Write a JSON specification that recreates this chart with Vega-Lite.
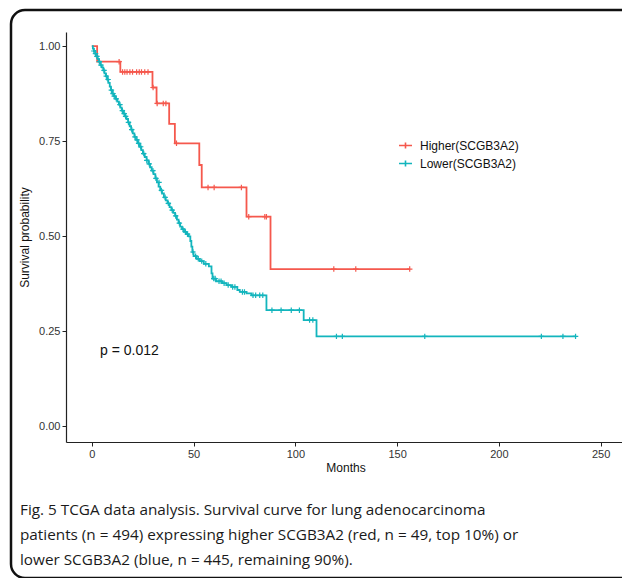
{
  "$schema": "https://vega.github.io/schema/vega-lite/v6.json",
  "width": 640,
  "height": 568,
  "autosize": "none",
  "padding": {"left": 11, "top": 10, "right": 0, "bottom": 0},
  "background": "white",
  "config": {
    "view": {"stroke": "#111111", "strokeWidth": 2.5, "cornerRadius": 14},
    "font": "Liberation Sans"
  },
  "title": {
    "text": [
      "Fig. 5 TCGA data analysis. Survival curve for lung adenocarcinoma",
      "patients (n = 494) expressing higher SCGB3A2 (red, n = 49, top 10%) or",
      "lower SCGB3A2 (blue, n = 445, remaining 90%)."
    ],
    "orient": "bottom",
    "anchor": "start",
    "frame": "group",
    "offset": -75,
    "dx": 9,
    "font": "Open Sans",
    "fontSize": 15.3,
    "fontWeight": "normal",
    "color": "#1a1a1a",
    "lineHeight": 25,
    "baseline": "top"
  },
  "datasets": {
    "steps": [
      {"group": "Higher(SCGB3A2)", "month": 0, "surv": 1.0},
      {"group": "Higher(SCGB3A2)", "month": 2.6, "surv": 0.959},
      {"group": "Higher(SCGB3A2)", "month": 14.0, "surv": 0.932},
      {"group": "Higher(SCGB3A2)", "month": 29.8, "surv": 0.891},
      {"group": "Higher(SCGB3A2)", "month": 31.8, "surv": 0.849},
      {"group": "Higher(SCGB3A2)", "month": 38.0, "surv": 0.795},
      {"group": "Higher(SCGB3A2)", "month": 40.8, "surv": 0.744},
      {"group": "Higher(SCGB3A2)", "month": 52.8, "surv": 0.687},
      {"group": "Higher(SCGB3A2)", "month": 54.0, "surv": 0.628},
      {"group": "Higher(SCGB3A2)", "month": 76.0, "surv": 0.551},
      {"group": "Higher(SCGB3A2)", "month": 87.8, "surv": 0.413},
      {"group": "Higher(SCGB3A2)", "month": 156.2, "surv": 0.413},
      {"group": "Lower(SCGB3A2)", "month": 0, "surv": 1.0},
      {"group": "Lower(SCGB3A2)", "month": 0.5, "surv": 0.993},
      {"group": "Lower(SCGB3A2)", "month": 1.0, "surv": 0.987},
      {"group": "Lower(SCGB3A2)", "month": 1.6, "surv": 0.98},
      {"group": "Lower(SCGB3A2)", "month": 2.2, "surv": 0.973},
      {"group": "Lower(SCGB3A2)", "month": 2.9, "surv": 0.966},
      {"group": "Lower(SCGB3A2)", "month": 3.5, "surv": 0.959},
      {"group": "Lower(SCGB3A2)", "month": 4.2, "surv": 0.95},
      {"group": "Lower(SCGB3A2)", "month": 4.9, "surv": 0.944},
      {"group": "Lower(SCGB3A2)", "month": 5.6, "surv": 0.936},
      {"group": "Lower(SCGB3A2)", "month": 6.2, "surv": 0.928},
      {"group": "Lower(SCGB3A2)", "month": 6.9, "surv": 0.921},
      {"group": "Lower(SCGB3A2)", "month": 7.5, "surv": 0.912},
      {"group": "Lower(SCGB3A2)", "month": 8.1, "surv": 0.903},
      {"group": "Lower(SCGB3A2)", "month": 8.8, "surv": 0.893},
      {"group": "Lower(SCGB3A2)", "month": 9.4, "surv": 0.884},
      {"group": "Lower(SCGB3A2)", "month": 10.1, "surv": 0.875},
      {"group": "Lower(SCGB3A2)", "month": 10.8, "surv": 0.868},
      {"group": "Lower(SCGB3A2)", "month": 11.6, "surv": 0.861},
      {"group": "Lower(SCGB3A2)", "month": 12.5, "surv": 0.854},
      {"group": "Lower(SCGB3A2)", "month": 13.3, "surv": 0.846},
      {"group": "Lower(SCGB3A2)", "month": 14.0, "surv": 0.838},
      {"group": "Lower(SCGB3A2)", "month": 14.7, "surv": 0.83},
      {"group": "Lower(SCGB3A2)", "month": 15.5, "surv": 0.822},
      {"group": "Lower(SCGB3A2)", "month": 16.3, "surv": 0.815},
      {"group": "Lower(SCGB3A2)", "month": 17.0, "surv": 0.808},
      {"group": "Lower(SCGB3A2)", "month": 17.8, "surv": 0.799},
      {"group": "Lower(SCGB3A2)", "month": 18.6, "surv": 0.789},
      {"group": "Lower(SCGB3A2)", "month": 19.3, "surv": 0.78},
      {"group": "Lower(SCGB3A2)", "month": 20.1, "surv": 0.77},
      {"group": "Lower(SCGB3A2)", "month": 20.9, "surv": 0.761},
      {"group": "Lower(SCGB3A2)", "month": 21.7, "surv": 0.753},
      {"group": "Lower(SCGB3A2)", "month": 22.6, "surv": 0.744},
      {"group": "Lower(SCGB3A2)", "month": 23.4, "surv": 0.735},
      {"group": "Lower(SCGB3A2)", "month": 24.3, "surv": 0.726},
      {"group": "Lower(SCGB3A2)", "month": 25.1, "surv": 0.717},
      {"group": "Lower(SCGB3A2)", "month": 26.0, "surv": 0.708},
      {"group": "Lower(SCGB3A2)", "month": 26.9, "surv": 0.699},
      {"group": "Lower(SCGB3A2)", "month": 27.8, "surv": 0.69},
      {"group": "Lower(SCGB3A2)", "month": 28.6, "surv": 0.681},
      {"group": "Lower(SCGB3A2)", "month": 29.4, "surv": 0.672},
      {"group": "Lower(SCGB3A2)", "month": 30.3, "surv": 0.663},
      {"group": "Lower(SCGB3A2)", "month": 31.2, "surv": 0.652},
      {"group": "Lower(SCGB3A2)", "month": 32.0, "surv": 0.641},
      {"group": "Lower(SCGB3A2)", "month": 32.8, "surv": 0.63},
      {"group": "Lower(SCGB3A2)", "month": 33.6, "surv": 0.62},
      {"group": "Lower(SCGB3A2)", "month": 34.5, "surv": 0.612},
      {"group": "Lower(SCGB3A2)", "month": 35.4, "surv": 0.602},
      {"group": "Lower(SCGB3A2)", "month": 36.3, "surv": 0.594},
      {"group": "Lower(SCGB3A2)", "month": 37.2, "surv": 0.586},
      {"group": "Lower(SCGB3A2)", "month": 38.2, "surv": 0.576},
      {"group": "Lower(SCGB3A2)", "month": 39.1, "surv": 0.568},
      {"group": "Lower(SCGB3A2)", "month": 40.0, "surv": 0.561},
      {"group": "Lower(SCGB3A2)", "month": 40.9, "surv": 0.553},
      {"group": "Lower(SCGB3A2)", "month": 41.8, "surv": 0.543},
      {"group": "Lower(SCGB3A2)", "month": 42.6, "surv": 0.534},
      {"group": "Lower(SCGB3A2)", "month": 43.4, "surv": 0.525},
      {"group": "Lower(SCGB3A2)", "month": 44.3, "surv": 0.518},
      {"group": "Lower(SCGB3A2)", "month": 45.3, "surv": 0.511},
      {"group": "Lower(SCGB3A2)", "month": 46.4, "surv": 0.505},
      {"group": "Lower(SCGB3A2)", "month": 47.6, "surv": 0.499},
      {"group": "Lower(SCGB3A2)", "month": 48.4, "surv": 0.487},
      {"group": "Lower(SCGB3A2)", "month": 48.9, "surv": 0.472},
      {"group": "Lower(SCGB3A2)", "month": 49.4, "surv": 0.458},
      {"group": "Lower(SCGB3A2)", "month": 50.0, "surv": 0.447},
      {"group": "Lower(SCGB3A2)", "month": 51.5, "surv": 0.44},
      {"group": "Lower(SCGB3A2)", "month": 53.0, "surv": 0.434},
      {"group": "Lower(SCGB3A2)", "month": 55.0, "surv": 0.427},
      {"group": "Lower(SCGB3A2)", "month": 57.5, "surv": 0.42},
      {"group": "Lower(SCGB3A2)", "month": 58.8, "surv": 0.402},
      {"group": "Lower(SCGB3A2)", "month": 59.3, "surv": 0.388},
      {"group": "Lower(SCGB3A2)", "month": 61.0, "surv": 0.381},
      {"group": "Lower(SCGB3A2)", "month": 64.0, "surv": 0.376},
      {"group": "Lower(SCGB3A2)", "month": 66.2, "surv": 0.371},
      {"group": "Lower(SCGB3A2)", "month": 68.6, "surv": 0.366},
      {"group": "Lower(SCGB3A2)", "month": 71.5, "surv": 0.358},
      {"group": "Lower(SCGB3A2)", "month": 72.7, "surv": 0.353},
      {"group": "Lower(SCGB3A2)", "month": 76.0, "surv": 0.349},
      {"group": "Lower(SCGB3A2)", "month": 78.4, "surv": 0.344},
      {"group": "Lower(SCGB3A2)", "month": 85.8, "surv": 0.305},
      {"group": "Lower(SCGB3A2)", "month": 104.1, "surv": 0.279},
      {"group": "Lower(SCGB3A2)", "month": 110.4, "surv": 0.236},
      {"group": "Lower(SCGB3A2)", "month": 238.0, "surv": 0.236}
    ],
    "censors": [
      {"group": "Higher(SCGB3A2)", "month": 13.4, "surv": 0.959},
      {"group": "Higher(SCGB3A2)", "month": 15.1, "surv": 0.932},
      {"group": "Higher(SCGB3A2)", "month": 16.2, "surv": 0.932},
      {"group": "Higher(SCGB3A2)", "month": 17.3, "surv": 0.932},
      {"group": "Higher(SCGB3A2)", "month": 18.7, "surv": 0.932},
      {"group": "Higher(SCGB3A2)", "month": 20.0, "surv": 0.932},
      {"group": "Higher(SCGB3A2)", "month": 22.0, "surv": 0.932},
      {"group": "Higher(SCGB3A2)", "month": 23.3, "surv": 0.932},
      {"group": "Higher(SCGB3A2)", "month": 24.4, "surv": 0.932},
      {"group": "Higher(SCGB3A2)", "month": 26.0, "surv": 0.932},
      {"group": "Higher(SCGB3A2)", "month": 27.6, "surv": 0.932},
      {"group": "Higher(SCGB3A2)", "month": 30.1, "surv": 0.891},
      {"group": "Higher(SCGB3A2)", "month": 32.1, "surv": 0.849},
      {"group": "Higher(SCGB3A2)", "month": 35.1, "surv": 0.849},
      {"group": "Higher(SCGB3A2)", "month": 36.4, "surv": 0.849},
      {"group": "Higher(SCGB3A2)", "month": 41.6, "surv": 0.744},
      {"group": "Higher(SCGB3A2)", "month": 57.1, "surv": 0.628},
      {"group": "Higher(SCGB3A2)", "month": 60.1, "surv": 0.628},
      {"group": "Higher(SCGB3A2)", "month": 73.5, "surv": 0.628},
      {"group": "Higher(SCGB3A2)", "month": 77.1, "surv": 0.551},
      {"group": "Higher(SCGB3A2)", "month": 85.0, "surv": 0.551},
      {"group": "Higher(SCGB3A2)", "month": 85.8, "surv": 0.551},
      {"group": "Higher(SCGB3A2)", "month": 118.9, "surv": 0.413},
      {"group": "Higher(SCGB3A2)", "month": 129.7, "surv": 0.413},
      {"group": "Higher(SCGB3A2)", "month": 156.2, "surv": 0.413},
      {"group": "Lower(SCGB3A2)", "month": 1.0, "surv": 0.987},
      {"group": "Lower(SCGB3A2)", "month": 1.8, "surv": 0.98},
      {"group": "Lower(SCGB3A2)", "month": 2.5, "surv": 0.973},
      {"group": "Lower(SCGB3A2)", "month": 3.7, "surv": 0.959},
      {"group": "Lower(SCGB3A2)", "month": 4.5, "surv": 0.95},
      {"group": "Lower(SCGB3A2)", "month": 6.0, "surv": 0.936},
      {"group": "Lower(SCGB3A2)", "month": 7.1, "surv": 0.921},
      {"group": "Lower(SCGB3A2)", "month": 8.0, "surv": 0.912},
      {"group": "Lower(SCGB3A2)", "month": 9.6, "surv": 0.884},
      {"group": "Lower(SCGB3A2)", "month": 10.4, "surv": 0.875},
      {"group": "Lower(SCGB3A2)", "month": 11.0, "surv": 0.868},
      {"group": "Lower(SCGB3A2)", "month": 12.0, "surv": 0.861},
      {"group": "Lower(SCGB3A2)", "month": 13.8, "surv": 0.846},
      {"group": "Lower(SCGB3A2)", "month": 15.0, "surv": 0.83},
      {"group": "Lower(SCGB3A2)", "month": 15.9, "surv": 0.822},
      {"group": "Lower(SCGB3A2)", "month": 16.6, "surv": 0.815},
      {"group": "Lower(SCGB3A2)", "month": 18.0, "surv": 0.799},
      {"group": "Lower(SCGB3A2)", "month": 19.6, "surv": 0.78},
      {"group": "Lower(SCGB3A2)", "month": 21.2, "surv": 0.761},
      {"group": "Lower(SCGB3A2)", "month": 22.2, "surv": 0.753},
      {"group": "Lower(SCGB3A2)", "month": 23.0, "surv": 0.744},
      {"group": "Lower(SCGB3A2)", "month": 24.0, "surv": 0.735},
      {"group": "Lower(SCGB3A2)", "month": 25.5, "surv": 0.717},
      {"group": "Lower(SCGB3A2)", "month": 27.0, "surv": 0.699},
      {"group": "Lower(SCGB3A2)", "month": 28.2, "surv": 0.69},
      {"group": "Lower(SCGB3A2)", "month": 30.0, "surv": 0.672},
      {"group": "Lower(SCGB3A2)", "month": 31.5, "surv": 0.652},
      {"group": "Lower(SCGB3A2)", "month": 33.0, "surv": 0.641},
      {"group": "Lower(SCGB3A2)", "month": 34.2, "surv": 0.62},
      {"group": "Lower(SCGB3A2)", "month": 36.0, "surv": 0.602},
      {"group": "Lower(SCGB3A2)", "month": 37.6, "surv": 0.586},
      {"group": "Lower(SCGB3A2)", "month": 39.5, "surv": 0.568},
      {"group": "Lower(SCGB3A2)", "month": 41.2, "surv": 0.553},
      {"group": "Lower(SCGB3A2)", "month": 43.0, "surv": 0.534},
      {"group": "Lower(SCGB3A2)", "month": 44.8, "surv": 0.518},
      {"group": "Lower(SCGB3A2)", "month": 46.0, "surv": 0.511},
      {"group": "Lower(SCGB3A2)", "month": 47.0, "surv": 0.505},
      {"group": "Lower(SCGB3A2)", "month": 49.7, "surv": 0.458},
      {"group": "Lower(SCGB3A2)", "month": 51.0, "surv": 0.447},
      {"group": "Lower(SCGB3A2)", "month": 52.3, "surv": 0.44},
      {"group": "Lower(SCGB3A2)", "month": 54.0, "surv": 0.434},
      {"group": "Lower(SCGB3A2)", "month": 56.0, "surv": 0.427},
      {"group": "Lower(SCGB3A2)", "month": 59.9, "surv": 0.388},
      {"group": "Lower(SCGB3A2)", "month": 60.6, "surv": 0.388},
      {"group": "Lower(SCGB3A2)", "month": 62.5, "surv": 0.381},
      {"group": "Lower(SCGB3A2)", "month": 63.5, "surv": 0.381},
      {"group": "Lower(SCGB3A2)", "month": 65.0, "surv": 0.376},
      {"group": "Lower(SCGB3A2)", "month": 67.0, "surv": 0.371},
      {"group": "Lower(SCGB3A2)", "month": 69.2, "surv": 0.366},
      {"group": "Lower(SCGB3A2)", "month": 70.3, "surv": 0.366},
      {"group": "Lower(SCGB3A2)", "month": 74.0, "surv": 0.353},
      {"group": "Lower(SCGB3A2)", "month": 75.0, "surv": 0.353},
      {"group": "Lower(SCGB3A2)", "month": 79.2, "surv": 0.344},
      {"group": "Lower(SCGB3A2)", "month": 80.5, "surv": 0.344},
      {"group": "Lower(SCGB3A2)", "month": 82.5, "surv": 0.344},
      {"group": "Lower(SCGB3A2)", "month": 84.0, "surv": 0.344},
      {"group": "Lower(SCGB3A2)", "month": 88.5, "surv": 0.305},
      {"group": "Lower(SCGB3A2)", "month": 93.0, "surv": 0.305},
      {"group": "Lower(SCGB3A2)", "month": 98.0, "surv": 0.305},
      {"group": "Lower(SCGB3A2)", "month": 102.0, "surv": 0.305},
      {"group": "Lower(SCGB3A2)", "month": 107.0, "surv": 0.279},
      {"group": "Lower(SCGB3A2)", "month": 108.6, "surv": 0.279},
      {"group": "Lower(SCGB3A2)", "month": 120.2, "surv": 0.236},
      {"group": "Lower(SCGB3A2)", "month": 123.1, "surv": 0.236},
      {"group": "Lower(SCGB3A2)", "month": 163.6, "surv": 0.236},
      {"group": "Lower(SCGB3A2)", "month": 220.9, "surv": 0.236},
      {"group": "Lower(SCGB3A2)", "month": 231.5, "surv": 0.236},
      {"group": "Lower(SCGB3A2)", "month": 237.7, "surv": 0.236}
    ],
    "annot": [{"label": "p = 0.012", "month": 4, "surv": 0.197}]
  },
  "layer": [
    {
      "data": {"name": "steps"},
      "mark": {"type": "line", "interpolate": "step-after", "strokeWidth": 1.8},
      "encoding": {
        "x": {
          "field": "month",
          "type": "quantitative",
          "scale": {"domain": [-12.7, 262], "range": [55, 614], "nice": false, "zero": false},
          "axis": {
            "offset": -136,
            "values": [0, 50, 100, 150, 200, 250],
            "title": "Months",
            "grid": false,
            "domainColor": "#222222",
            "domainWidth": 1.2,
            "tickColor": "#222222",
            "tickSize": 4,
            "labelFontSize": 11,
            "labelColor": "#333333",
            "labelPadding": 2,
            "titleFontSize": 12,
            "titleFontWeight": "normal",
            "titleColor": "#111111",
            "titlePadding": 3
          }
        },
        "y": {
          "field": "surv",
          "type": "quantitative",
          "scale": {"domain": [-0.042, 1.037], "range": [432, 22], "nice": false, "zero": false},
          "axis": {
            "offset": -55,
            "values": [0, 0.25, 0.5, 0.75, 1],
            "format": ".2f",
            "title": "Survival probability",
            "grid": false,
            "domainColor": "#222222",
            "domainWidth": 1.2,
            "tickColor": "#222222",
            "tickSize": 4,
            "labelFontSize": 11,
            "labelColor": "#333333",
            "labelPadding": 2,
            "titleFontSize": 12,
            "titleFontWeight": "normal",
            "titleColor": "#111111",
            "titlePadding": 7
          }
        },
        "color": {
          "field": "group",
          "type": "nominal",
          "scale": {"domain": ["Higher(SCGB3A2)", "Lower(SCGB3A2)"], "range": ["#F5584D", "#13B5BD"]},
          "legend": {
            "orient": "none",
            "legendX": 387,
            "legendY": 128,
            "title": null,
            "symbolType": "M-1,0H1M0,-0.45V0.45",
            "symbolSize": 169,
            "symbolStrokeWidth": 1.6,
            "symbolFillColor": "transparent",
            "labelFontSize": 12,
            "labelColor": "#111111",
            "labelOffset": 7,
            "rowPadding": 4
          }
        }
      }
    },
    {
      "data": {"name": "censors"},
      "mark": {"type": "point", "shape": "M0,-1V1M-1,0H1", "size": 30, "strokeWidth": 1.2, "filled": false, "opacity": 1},
      "encoding": {
        "x": {"field": "month", "type": "quantitative"},
        "y": {"field": "surv", "type": "quantitative"},
        "color": {"field": "group", "type": "nominal"}
      }
    },
    {
      "data": {"name": "annot"},
      "mark": {"type": "text", "align": "left", "baseline": "middle", "fontSize": 14, "font": "Liberation Sans", "color": "#111111"},
      "encoding": {
        "x": {"field": "month", "type": "quantitative"},
        "y": {"field": "surv", "type": "quantitative"},
        "text": {"field": "label", "type": "nominal"}
      }
    }
  ]
}
